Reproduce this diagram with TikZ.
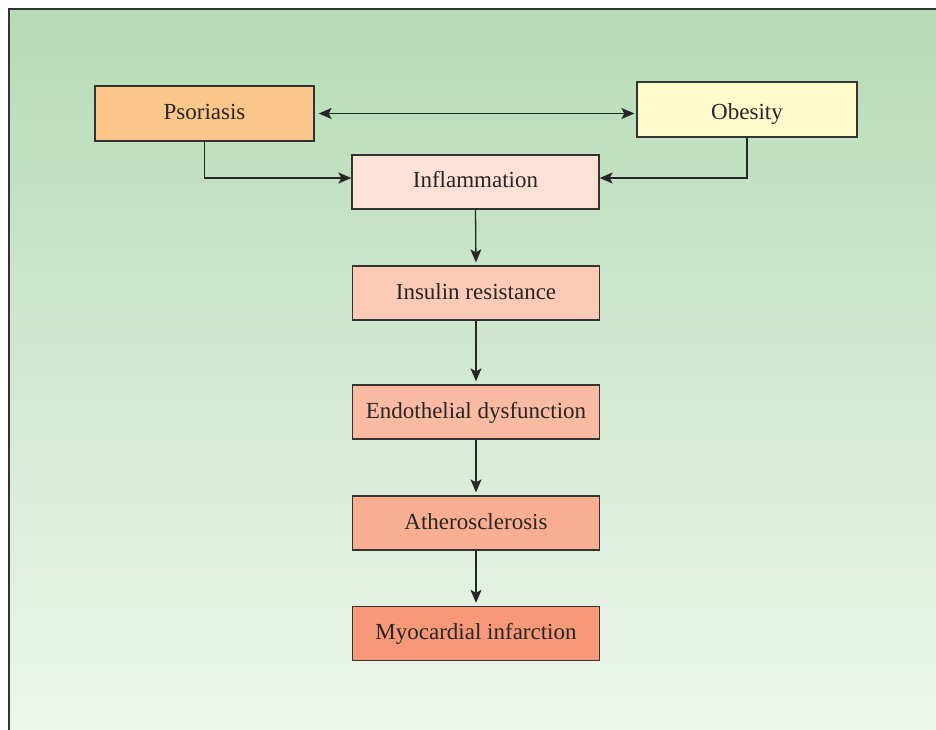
\documentclass[tikz,border=0pt]{standalone}
\usepackage{fontspec}
\setmainfont{Liberation Serif}
\usetikzlibrary{arrows.meta}
\definecolor{bgtop}{HTML}{B6DBB5}
\definecolor{bgbot}{HTML}{EDF6ED}
\definecolor{edge}{HTML}{333333}
\definecolor{cpso}{HTML}{FBC689}
\definecolor{cobe}{HTML}{FFFACC}
\definecolor{cinf}{HTML}{FDE1D6}
\definecolor{cins}{HTML}{FCCAB6}
\definecolor{cend}{HTML}{FBBBA2}
\definecolor{cath}{HTML}{F9AD91}
\definecolor{cmyo}{HTML}{F79878}
\tikzset{
  box/.style={draw=edge, line width=1.3pt, rectangle, minimum width=247pt, minimum height=54pt, inner sep=0pt, text height=16pt, text depth=4pt, font=\fontsize{23}{27}\selectfont, text=black!85},
  conn/.style={draw=black!85, line width=1.3pt, -{Stealth[length=13pt,width=11pt,inset=3pt]}},
}
\begin{document}
\begin{tikzpicture}[x=1pt,y=-1pt]
\useasboundingbox (0,0) rectangle (936,730);
\fill[white] (0,0) rectangle (936,730);
\shade[top color=bgtop, bottom color=bgbot] (9,9) rectangle (936,730);
\draw[edge, line width=1.5pt] (9,730) -- (9,9) -- (936,9);
\node[box, fill=cpso, minimum width=219pt, minimum height=55pt] (pso) at (204.5,113.5) {Psoriasis};
\node[box, fill=cobe, minimum width=220pt, minimum height=55pt, text height=24pt] (obe) at (747,109.5) {Obesity};
\node[box, fill=cinf] (inf) at (475.5,182) {Inflammation};
\node[box, fill=cins] (ins) at (476,293) {Insulin resistance};
\node[box, fill=cend] (endo) at (476,412) {Endothelial dysfunction};
\node[box, fill=cath] (ath) at (476,523) {Atherosclerosis};
\node[box, fill=cmyo] (myo) at (476,633.5) {Myocardial infarction};
\coordinate (dl) at ([xshift=4pt]pso.east);
\coordinate (dr) at (dl -| obe.west);
\draw[conn, {Stealth[length=13pt,width=11pt,inset=3pt]}-{Stealth[length=13pt,width=11pt,inset=3pt]}, shorten >=2pt] (dl) -- (dr);
\draw[conn] (pso.south) |- ([yshift=4pt]inf.west);
\draw[conn] (obe.south) |- ([yshift=4pt]inf.east);
\draw[conn, shorten >=3pt] (inf.south) -- (ins.north);
\draw[conn, shorten >=3pt] (ins.south) -- (endo.north);
\draw[conn, shorten >=3pt] (endo.south) -- (ath.north);
\draw[conn, shorten >=3pt] (ath.south) -- (myo.north);
\end{tikzpicture}
\end{document}
